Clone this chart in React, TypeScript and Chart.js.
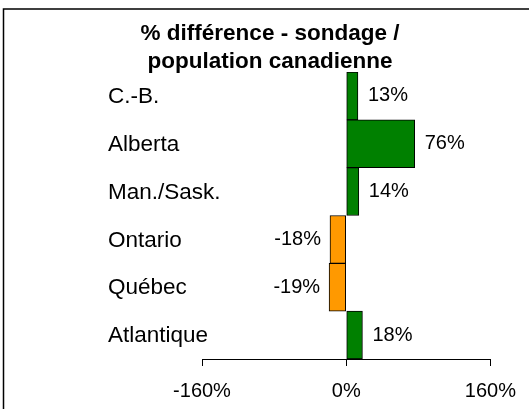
import React, { useEffect, useRef } from "react";
import { Chart, registerables } from "chart.js";

Chart.register(...registerables);

const categories = ["C.-B.", "Alberta", "Man./Sask.", "Ontario", "Québec", "Atlantique"];
const values = [13, 76, 14, -18, -19, 18];
const xTickValues = [-160, 0, 160];
const titleLines = ["% différence - sondage /", "population canadienne"];
const positiveColor = "#008000";
const negativeColor = "#FF9900";
const FONT = "'Liberation Sans', Arial, sans-serif";

const decorPlugin = {
  id: "decor",
  beforeDraw(chart: any) {
    const ctx = chart.ctx;
    ctx.save();
    ctx.fillStyle = "#ffffff";
    ctx.fillRect(0, 0, chart.width, chart.height);
    ctx.strokeStyle = "#000000";
    ctx.lineWidth = 1.5;
    ctx.strokeRect(3.5, 9, chart.width + 50, chart.height + 50);
    ctx.fillStyle = "#000000";
    ctx.font = `bold 22.5px ${FONT}`;
    ctx.textAlign = "center";
    ctx.textBaseline = "alphabetic";
    ctx.fillText(titleLines[0], 270, 40);
    ctx.fillText(titleLines[1], 270, 68);
    ctx.restore();
  },
  afterDraw(chart: any) {
    const ctx = chart.ctx;
    const yScale = chart.scales.y;
    ctx.save();
    ctx.fillStyle = "#000000";
    ctx.font = `22.5px ${FONT}`;
    ctx.textAlign = "left";
    ctx.textBaseline = "middle";
    categories.forEach((c, i) => {
      ctx.fillText(c, 108, yScale.getPixelForValue(i) + 1);
    });
    ctx.restore();
  },
  afterDatasetsDraw(chart: any) {
    const ctx = chart.ctx;
    const meta = chart.getDatasetMeta(0);
    ctx.save();
    ctx.fillStyle = "#000000";
    ctx.font = `20px ${FONT}`;
    ctx.textBaseline = "middle";
    meta.data.forEach((bar: any, i: number) => {
      const v = values[i];
      const label = `${v}%`;
      if (v >= 0) {
        ctx.textAlign = "left";
        ctx.fillText(label, bar.x + 10, bar.y);
      } else {
        ctx.textAlign = "right";
        ctx.fillText(label, bar.x - 9, bar.y);
      }
    });
    ctx.restore();
  },
};

export default function App() {
  const canvasRef = useRef<HTMLCanvasElement | null>(null);

  useEffect(() => {
    const canvas = canvasRef.current;
    if (!canvas) return;
    const chart = new Chart(canvas, {
      type: "bar",
      data: {
        labels: categories,
        datasets: [
          {
            data: values,
            backgroundColor: values.map((v) => (v >= 0 ? positiveColor : negativeColor)),
            borderColor: "#000000",
            borderWidth: 1,
            borderSkipped: false,
            barPercentage: 1,
            categoryPercentage: 1,
          },
        ],
      },
      options: {
        indexAxis: "y",
        responsive: false,
        animation: false,
        devicePixelRatio: 1,
        layout: { padding: { top: 72, left: 110, right: 33, bottom: 0 } },
        plugins: {
          legend: { display: false },
          title: { display: false },
          tooltip: { enabled: false },
        },
        scales: {
          x: {
            type: "linear",
            min: xTickValues[0],
            max: xTickValues[xTickValues.length - 1],
            afterBuildTicks: (scale: any) => {
              scale.ticks = xTickValues.map((v) => ({ value: v }));
            },
            afterFit: (scale: any) => {
              scale.height = 50;
            },
            grid: {
              drawOnChartArea: false,
              drawTicks: true,
              tickLength: 7,
              color: "#000000",
              lineWidth: 1,
            },
            border: { display: true, color: "#000000", width: 1 },
            ticks: {
              color: "#000000",
              font: { family: FONT, size: 20 },
              padding: 13,
              maxRotation: 0,
              autoSkip: false,
              callback: (v: any) => `${v}%`,
            },
          },
          y: {
            afterFit: (scale: any) => {
              scale.width = 92;
            },
            grid: { display: false, drawTicks: false },
            border: { display: false },
            ticks: { display: false },
          },
        },
      },
      plugins: [decorPlugin],
    } as any);
    return () => chart.destroy();
  }, []);

  return (
    <div style={{ position: "absolute", left: 0, top: 0, width: 529, height: 409 }}>
      <canvas ref={canvasRef} width={529} height={409} style={{ display: "block" }} />
    </div>
  );
}
